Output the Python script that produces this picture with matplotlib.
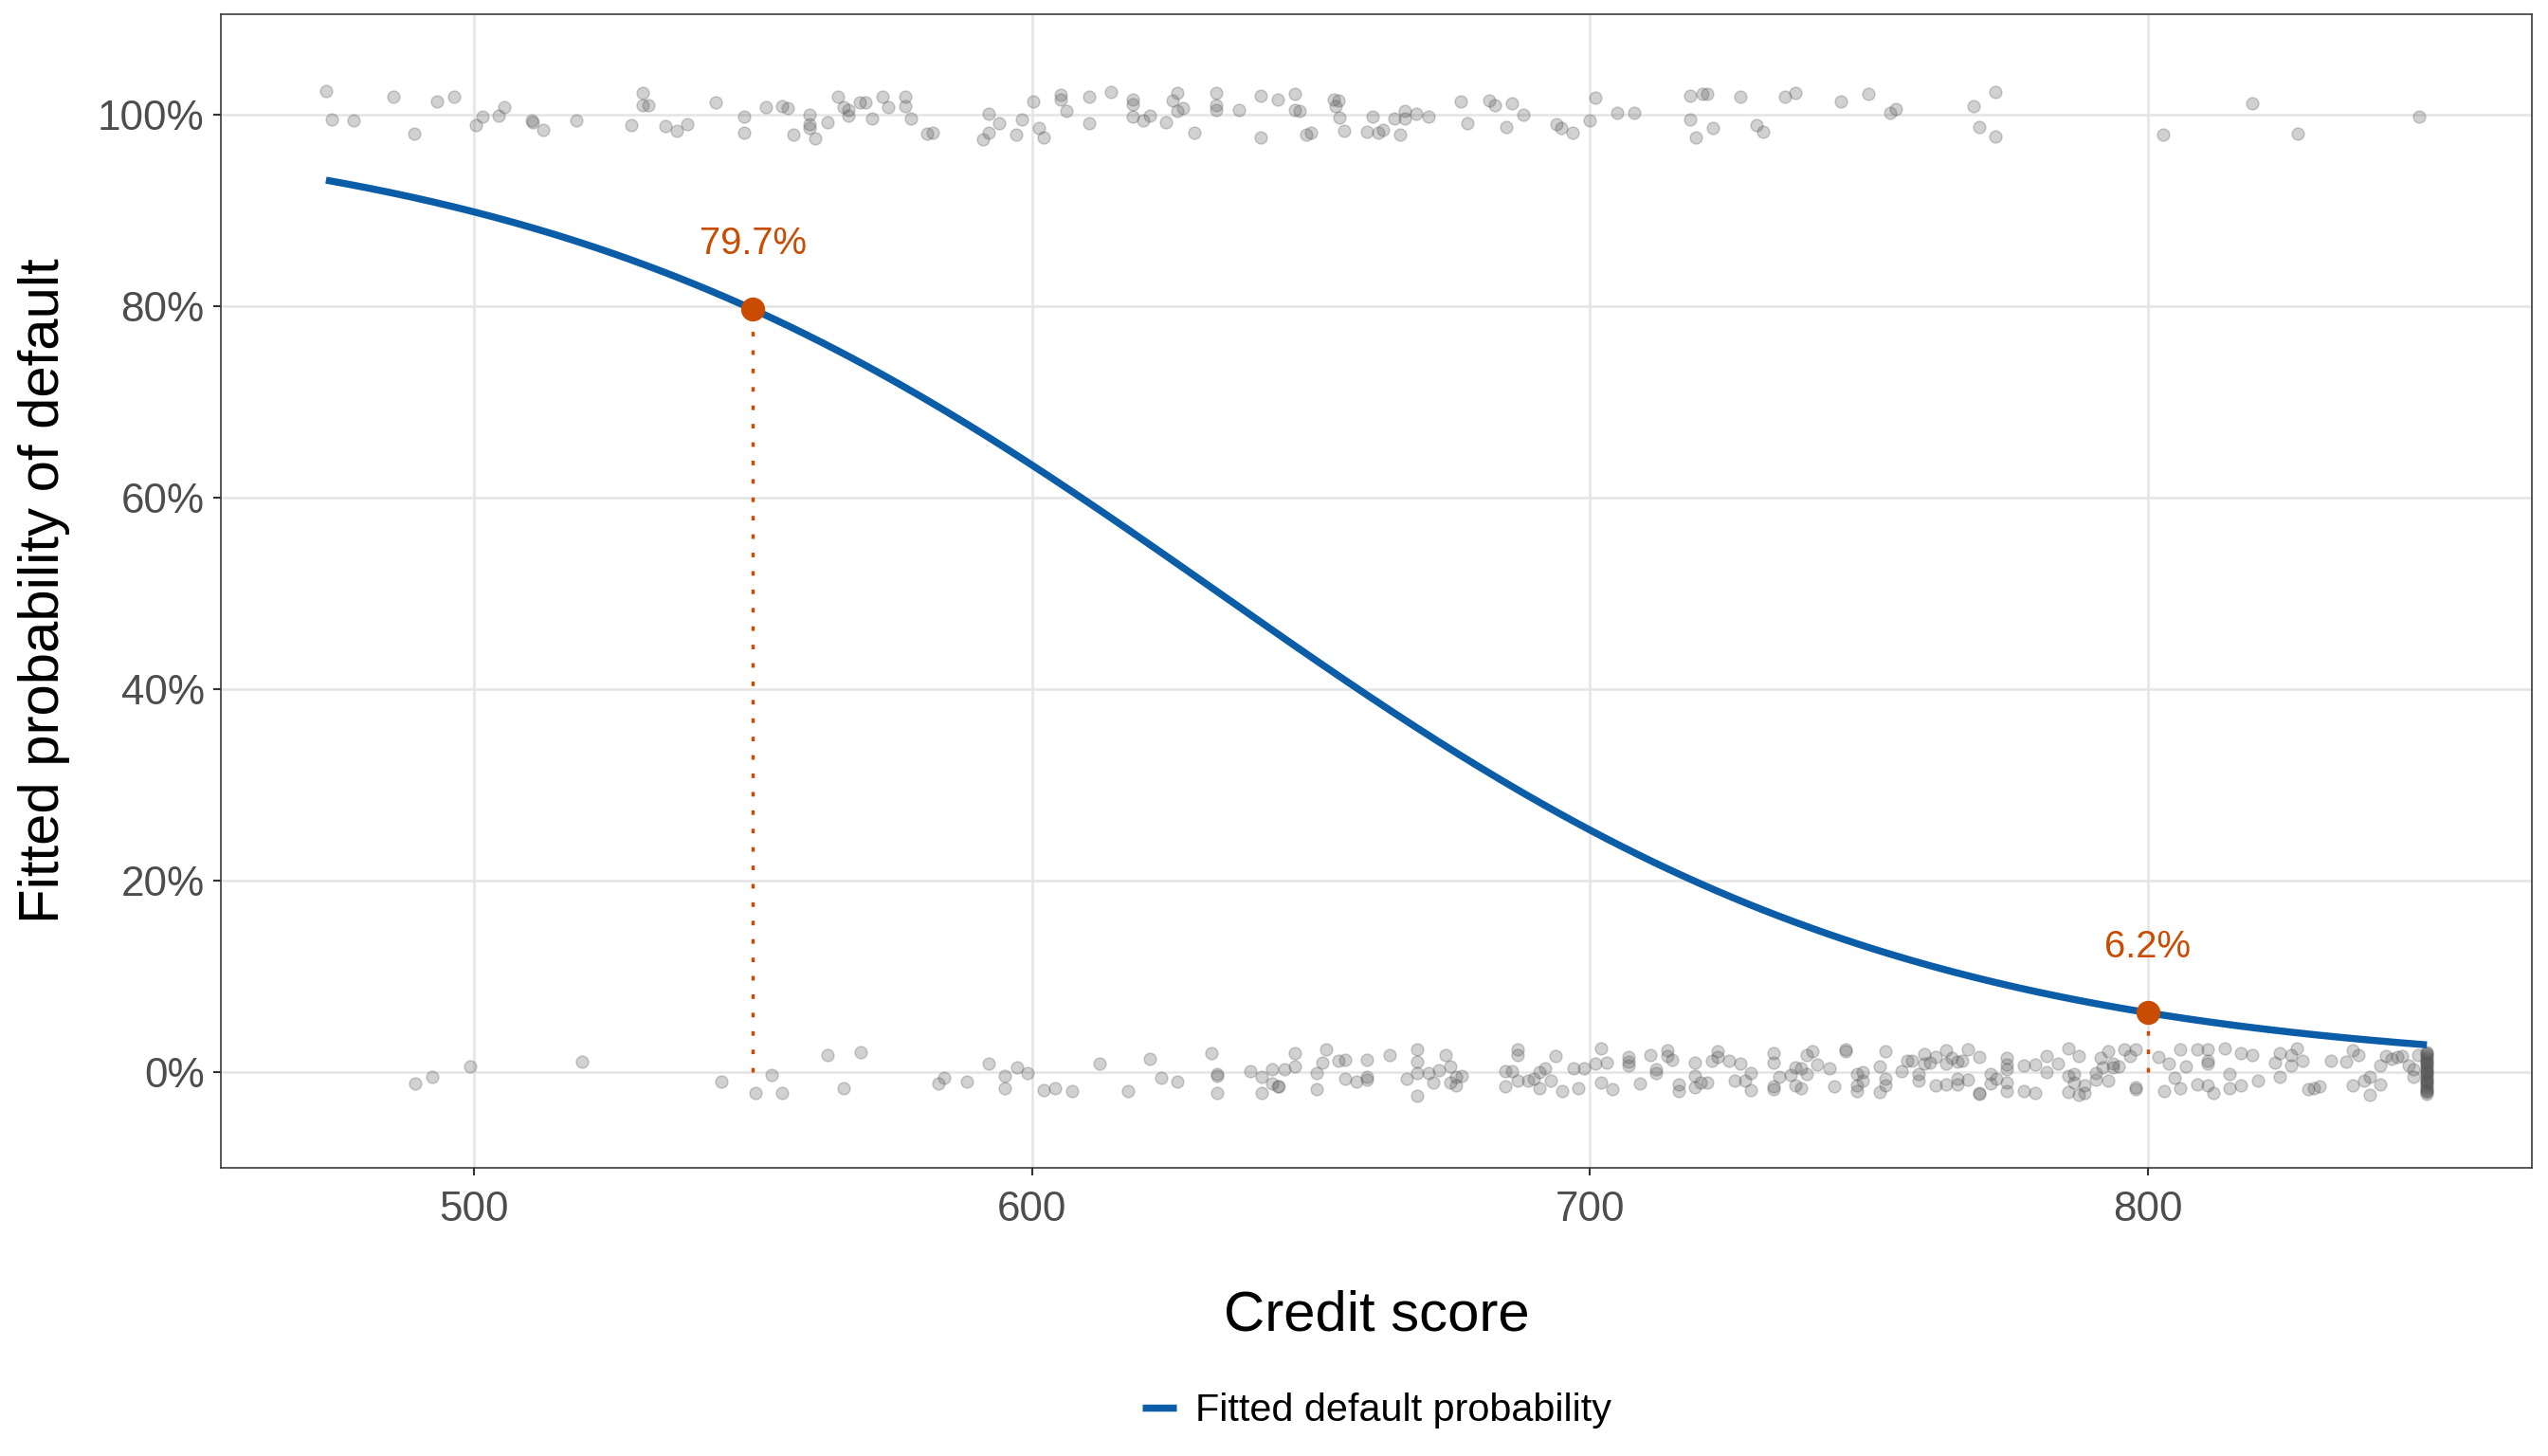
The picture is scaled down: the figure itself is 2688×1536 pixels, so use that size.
import numpy as np
import matplotlib.pyplot as plt
from matplotlib.lines import Line2D

plt.rcParams['font.family'] = ['Liberation Sans', 'DejaVu Sans']

# fitted logistic model: logit(p) = b0 + b1 * score
b0 = 10.3535
b1 = -0.016338
score_min = 473.5
score_max = 850.0

# scores that are highlighted on the curve
mark_scores = [550, 800]

# observed defaults (y = 1, jittered vertically)
top_score = [473.5, 474.5, 478.4, 485.5, 489.4, 493.4, 496.4, 500.4, 501.5, 504.4,
             505.4, 510.4, 510.6, 512.4, 518.4, 528.3, 530.3, 530.3, 531.3, 534.4,
             536.3, 538.3, 543.3, 548.4, 548.4, 552.3, 555.3, 556.3, 557.2, 560.2,
             560.2, 560.2, 561.2, 563.3, 565.2, 566.2, 567.2, 567.2, 569.2, 570.2,
             571.3, 573.3, 574.3, 577.3, 577.3, 578.3, 581.3, 582.2, 591.2, 592.2,
             592.2, 594.2, 597.2, 598.2, 600.2, 601.2, 602.2, 605.2, 605.2, 606.2,
             610.2, 610.2, 614.2, 618.1, 618.1, 618.1,
             620.0, 621.1, 624.1, 625.2, 626.1, 626.1, 627.1, 629.1, 633.0, 633.0,
             633.0, 637.1, 641.1, 641.1, 644.1, 647.1, 647.1, 648.0, 649.1, 650.0,
             654.1, 654.5, 655.0, 655.1, 656.0, 660.1, 661.0, 662.1, 663.0, 665.0,
             666.0, 666.9, 666.9, 668.9, 671.0, 676.9, 678.0, 681.9, 683.0, 685.0,
             686.0, 688.0, 694.0, 694.9, 696.9, 699.9, 701.0, 704.9, 708.0, 717.9,
             717.9, 719.0, 720.1, 721.0, 722.0, 726.9, 729.9, 731.0, 734.9, 736.9,
             744.9, 749.9, 753.8, 754.9, 768.8, 769.8, 772.7, 772.7, 802.7, 818.7,
             826.8, 848.6]
top_y = [1.025, 0.995, 0.994, 1.019, 0.981, 1.014, 1.019, 0.989, 0.998, 0.999,
         1.008, 0.994, 0.992, 0.985, 0.994, 0.989, 1.023, 1.010, 1.010, 0.988,
         0.984, 0.990, 1.013, 0.998, 0.982, 1.008, 1.009, 1.007, 0.980, 1.000,
         0.990, 0.986, 0.976, 0.992, 1.019, 1.008, 1.005, 0.999, 1.013, 1.013,
         0.996, 1.019, 1.008, 1.019, 1.009, 0.996, 0.981, 0.982, 0.975, 0.982,
         1.001, 0.991, 0.980, 0.995, 1.014, 0.986, 0.977, 1.021, 1.016, 1.004,
         1.019, 0.991, 1.024, 1.016, 1.011, 0.998,
         0.994, 0.999, 0.992, 1.015, 1.023, 1.004, 1.007, 0.982, 1.023, 1.010,
         1.005, 1.005, 1.020, 0.977, 1.016, 1.022, 1.005, 1.004, 0.980, 0.982,
         1.016, 1.009, 1.015, 0.997, 0.984, 0.983, 0.998, 0.982, 0.985, 0.996,
         0.980, 1.004, 0.996, 1.001, 0.998, 1.014, 0.991, 1.015, 1.010, 0.987,
         1.012, 1.000, 0.990, 0.986, 0.982, 0.994, 1.018, 1.002, 1.002, 1.020,
         0.995, 0.977, 1.022, 1.022, 0.986, 1.019, 0.989, 0.983, 1.019, 1.023,
         1.014, 1.022, 1.002, 1.006, 1.009, 0.987, 1.024, 0.978, 0.980, 1.012,
         0.981, 0.998]

# observed non-defaults (y = 0, jittered vertically)
bot_score = [489.5, 492.5, 499.4, 519.4, 544.3, 550.4, 553.4, 555.3, 563.3, 566.2,
             569.3, 583.3, 584.3, 588.3, 592.3, 595.2, 595.2, 597.3, 599.2, 602.2,
             604.2, 607.2, 612.2, 617.2, 621.2, 623.1, 626.1, 632.2, 633.2, 633.2,
             633.2, 639.1, 641.2, 641.2, 643.1, 643.1, 644.0, 644.2, 645.2, 647.1,
             647.1, 651.1, 651.1, 652.1, 652.7,
             655.0, 656.1, 656.1, 658.1, 660.0, 660.0, 660.0, 664.1, 667.1, 669.1,
             669.1, 669.1, 669.1, 671.1, 672.0, 673.0, 674.1, 675.0, 675.0, 676.0,
             676.0, 677.1, 684.9, 684.9, 686.0, 687.0, 687.0, 687.0, 689.0, 690.0,
             691.0, 691.0, 692.0, 693.0, 693.9, 695.0, 697.0, 698.0, 699.0, 701.0,
             702.0, 702.0, 703.0, 704.0, 706.9, 706.9, 706.9, 708.9, 710.9, 711.9,
             711.9, 713.9, 713.9, 714.8, 716.0, 716.0, 718.8, 718.8, 718.8, 719.8,
             721.0, 721.9,
             722.9, 722.9, 724.9, 725.9, 726.9, 727.8, 728.9, 728.9, 732.9, 732.9,
             732.9, 732.9, 733.9, 735.9, 736.9, 736.9, 737.9, 737.9, 738.9, 738.9,
             739.9, 740.8, 742.9, 743.8, 745.9, 745.9, 747.9, 747.9, 747.9, 748.9,
             748.9, 751.9, 751.9, 752.9, 752.9, 752.9, 755.8, 756.8, 757.8, 758.9,
             758.9, 759.9, 759.9, 760.9, 761.9, 761.9, 763.9, 763.9, 763.9, 764.8,
             765.9, 765.9, 765.9, 766.8, 767.8, 767.8, 769.8, 769.8, 769.8, 771.8,
             771.8, 772.8, 774.7, 774.7, 774.7, 774.7, 774.7, 777.8, 777.8, 779.8,
             779.8, 781.8, 781.8, 783.8, 785.8, 785.8, 785.8, 786.8, 786.8, 787.7,
             787.7, 788.7, 788.7, 790.7, 790.7, 791.6,
             791.8, 792.8, 792.8, 793.8, 793.8, 794.8, 795.8, 796.8, 797.8, 797.8,
             797.8, 801.8, 802.9, 803.7, 804.8, 805.8, 805.8, 806.8, 808.8, 808.8,
             810.8, 810.8, 810.8, 810.8, 811.8, 813.7, 814.7, 814.7, 816.7, 816.7,
             818.7, 819.8, 822.8, 823.7, 823.7, 825.7, 825.7, 826.7, 827.7, 828.7,
             829.7, 830.7, 832.8, 835.6, 836.7, 836.7, 837.7, 838.7, 839.7, 839.7,
             841.7, 841.7, 842.7, 843.7, 844.7, 845.6, 846.7, 847.6, 847.6, 848.5]
bot_y = [-0.012, -0.005, 0.006, 0.011, -0.010, -0.022, -0.003, -0.022, 0.018, -0.017,
         0.021, -0.012, -0.006, -0.010, 0.009, -0.004, -0.017, 0.005, -0.001, -0.019,
         -0.017, -0.020, 0.009, -0.020, 0.014, -0.006, -0.010, 0.020, -0.002, -0.004,
         -0.022, 0.001, -0.005, -0.022, 0.003, -0.012, -0.015, -0.015, 0.003, 0.020,
         0.006, -0.001, -0.018, 0.010, 0.024,
         0.012, 0.013, -0.007, -0.010, 0.013, -0.005, -0.008, 0.018, -0.007, 0.024,
         0.011, -0.001, -0.025, -0.001, -0.011, 0.002, 0.018, 0.006, -0.011, -0.005,
         -0.014, -0.004, 0.001, -0.015, 0.001, 0.024, 0.018, -0.009, -0.009, -0.007,
         0.000, -0.017, 0.004, -0.009, 0.017, -0.020, 0.004, -0.017, 0.004, 0.009,
         0.025, -0.011, 0.010, -0.018, 0.016, 0.011, 0.007, -0.012, 0.018, 0.003,
         -0.001, 0.023, 0.017, 0.013, -0.013, -0.020, 0.010, -0.004, -0.016, -0.011,
         -0.011, 0.012,
         0.022, 0.016, 0.012, -0.009, 0.009, -0.009, -0.001, -0.019, 0.020, 0.010,
         -0.015, -0.018, -0.005, -0.003, 0.005, -0.014, 0.004, -0.017, 0.018, -0.002,
         0.022, 0.008, 0.004, -0.015, 0.024, 0.022, -0.002, -0.014, -0.020, 0.000,
         -0.009, 0.006, -0.021, 0.022, -0.007, -0.014, 0.001, 0.012, 0.012, -0.002,
         -0.009, 0.019, 0.009, 0.010, 0.016, -0.014, 0.023, 0.009, -0.013, 0.015,
         0.011, -0.007, -0.013, 0.012, 0.024, -0.008, 0.016, -0.023, -0.022, -0.002,
         -0.012, -0.007, 0.015, 0.008, 0.003, -0.011, -0.020, 0.007, -0.020, 0.008,
         -0.022, 0.017, 0.000, 0.009, 0.025, -0.004, -0.021, -0.002, -0.011, 0.017,
         -0.024, -0.014, -0.022, -0.001, -0.008, 0.015,
         0.005, 0.022, -0.009, 0.009, 0.005, 0.006, 0.024, 0.017, 0.024, -0.016,
         -0.018, 0.016, -0.020, 0.009, -0.006, 0.024, -0.017, 0.006, 0.024, -0.013,
         0.024, 0.012, 0.009, -0.014, -0.022, 0.025, -0.002, -0.017, 0.020, -0.014,
         0.018, -0.009, 0.010, 0.020, -0.005, 0.018, 0.007, 0.025, 0.012, -0.018,
         -0.017, -0.015, 0.012, 0.011, 0.023, -0.014, 0.018, -0.009, -0.005, -0.024,
         0.007, -0.013, 0.017, 0.014, 0.016, 0.017, 0.007, 0.003, -0.005, 0.018]

# pile of non-defaults at the maximum score (850)
cap_y = [0.021, 0.019, 0.017, 0.015, 0.013, 0.011, 0.009, 0.007, 0.005, 0.003,
         0.001, -0.001, -0.003, -0.005, -0.007, -0.009, -0.011, -0.013, -0.015, -0.017,
         -0.019, -0.021, -0.023, 0.020, 0.010, 0.000, -0.010, -0.020]

blue = '#0a5da6'
red = '#c94c02'


def fitted(s):
    return 1 / (1 + np.exp(-(b0 + b1 * np.asarray(s, dtype=float))))


fig = plt.figure(figsize=(14, 8), dpi=192)
ax = fig.add_axes([0.0867, 0.198, 0.907, 0.792])

pt = dict(s=23, c='#555555', alpha=0.27, edgecolors='#555555', linewidths=0.6, zorder=2)
ax.scatter(top_score, top_y, **pt)
ax.scatter(bot_score, bot_y, **pt)
ax.scatter(np.full(len(cap_y), score_max), cap_y, **pt)

xs = np.linspace(score_min, score_max, 400)
ax.plot(xs, fitted(xs), color=blue, lw=2.8, zorder=3, solid_capstyle='butt')

for s in mark_scores:
    p = float(fitted(s))
    ax.plot([s, s], [0, p], color=red, lw=1.3, ls=(0, (1.4, 4.2)), zorder=2)
    ax.plot(s, p, 'o', color=red, ms=8.5, zorder=4)
    ax.text(s, p + 0.069, f"{p * 100:.1f}%", color=red, fontsize=15,
            ha='center', va='center')

rng = score_max - score_min
ax.set_xlim(score_min - 0.05 * rng, score_max + 0.05 * rng)
ax.set_ylim(-0.1, 1.105)
ax.set_xticks([500, 600, 700, 800])
ax.set_yticks([0, 0.2, 0.4, 0.6, 0.8, 1.0])
ax.set_yticklabels(['0%', '20%', '40%', '60%', '80%', '100%'])

ax.grid(color='#e6e6e6', lw=1.0)
ax.set_axisbelow(True)
for sp in ax.spines.values():
    sp.set_color('#333333')
    sp.set_linewidth(0.6)
ax.tick_params(length=3, width=0.8, color='#333333', labelsize=16.5, labelcolor='#4d4d4d')
ax.tick_params(axis='x', pad=6)
ax.tick_params(axis='y', pad=3.5)

ax.set_xlabel('Credit score', fontsize=22.5, color='black')
ax.set_ylabel('Fitted probability of default', fontsize=22.5, color='black')
ax.xaxis.set_label_coords(0.5, -0.128)
ax.xaxis.label.set_va('center')
ax.yaxis.set_label_coords(-0.0765, 0.5)
ax.yaxis.label.set_va('center')

handle = Line2D([], [], color=blue, lw=2.8, solid_capstyle='butt')
fig.legend(handles=[handle], labels=['Fitted default probability'], loc='center',
           bbox_to_anchor=(0.5405, 0.031), frameon=False, fontsize=15.5,
           handlelength=0.85, handletextpad=0.5)

fig.savefig('out.png', dpi=192)
